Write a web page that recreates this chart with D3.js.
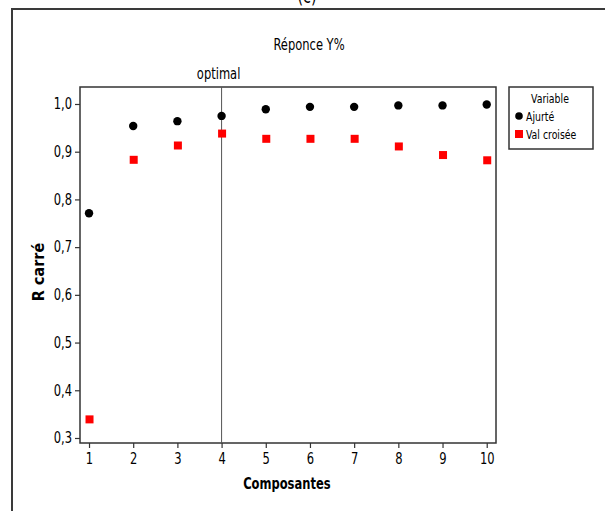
<!DOCTYPE html>
<html>
<head>
<meta charset="utf-8">
<script src="https://cdn.jsdelivr.net/npm/d3@7"></script>
<style>
  html, body { margin: 0; padding: 0; background: #fff; }
  svg { display: block; }
  text { font-family: "DejaVu Sans Condensed", "DejaVu Sans", sans-serif; fill: #000; }
</style>
</head>
<body>
<script>
// R² by number of components
const composantes = [1, 2, 3, 4, 5, 6, 7, 8, 9, 10];
const ajuste      = [0.771, 0.954, 0.964, 0.975, 0.989, 0.994, 0.994, 0.997, 0.997, 0.999];
const valCroisee  = [0.339, 0.883, 0.913, 0.938, 0.927, 0.927, 0.927, 0.911, 0.893, 0.882];
const yTicks      = [0.3, 0.4, 0.5, 0.6, 0.7, 0.8, 0.9, 1.0];
const xTicks      = [1, 2, 3, 4, 5, 6, 7, 8, 9, 10];
const optimal     = 4;

const W = 605, H = 511;
const plot = { left: 80, top: 87, right: 496, bottom: 443 };
const SX = 0.8; // horizontal squeeze of the lettering

const svg = d3.select("body").append("svg")
  .attr("width", W).attr("height", H);

// text placed at (x, y) and squeezed horizontally
function label(x0, y0, str, opts = {}) {
  const t = svg.append("text")
    .attr("transform", `translate(${x0},${y0}) scale(${opts.sx ?? SX},1)`)
    .attr("text-anchor", opts.anchor || "start")
    .style("font-size", (opts.size || 16) + "px")
    .text(str);
  if (opts.bold) t.style("font-weight", "bold");
  return t;
}

// outer figure frame (continues past the window edge)
svg.append("path")
  .attr("d", `M12,${H + 5} L12,9 L${W + 5},9`)
  .attr("fill", "none").attr("stroke", "#3a3a3a").attr("stroke-width", 2);

// panel tag, mostly cut off above the frame
label(307, 3, "(c)", { anchor: "middle", size: 20 });

const x = d3.scaleLinear().domain([0.796, 10.21]).range([plot.left, plot.right]);
const y = d3.scaleLinear().domain([0.2895, 1.0356]).range([plot.bottom, plot.top]);

const comma = v => d3.format(".1f")(v).replace(".", ",");

// axes
const gx = svg.append("g").attr("transform", `translate(0,${plot.bottom})`)
  .call(d3.axisBottom(x).tickValues(xTicks).tickSize(5).tickPadding(4).tickFormat(d3.format("d")));
const gy = svg.append("g").attr("transform", `translate(${plot.left},0)`)
  .call(d3.axisLeft(y).tickValues(yTicks).tickSize(5).tickPadding(3).tickFormat(comma));
[gx, gy].forEach(g => {
  g.select(".domain").remove();
  g.selectAll(".tick line").attr("stroke", "#333").attr("stroke-width", 1.2);
  g.selectAll(".tick text").style("font-size", "16px").attr("fill", "#000");
});
gx.selectAll(".tick text").attr("transform", `scale(${SX},1)`).attr("y", 9).attr("dy", "0.76em");
gy.selectAll(".tick text").attr("transform", `scale(${SX},1)`).attr("x", -8 / SX).attr("dy", "0.3em");

// plot frame
svg.append("rect")
  .attr("x", plot.left).attr("y", plot.top)
  .attr("width", plot.right - plot.left).attr("height", plot.bottom - plot.top)
  .attr("fill", "none").attr("stroke", "#333").attr("stroke-width", 1.5);

// reference line at the optimal number of components
svg.append("line")
  .attr("x1", x(optimal)).attr("x2", x(optimal))
  .attr("y1", plot.top).attr("y2", plot.bottom)
  .attr("stroke", "#555").attr("stroke-width", 1);
label(x(optimal) - 3, 79, "optimal", { anchor: "middle", size: 16 });

// title and axis titles
label(309, 50, "Réponce Y%", { anchor: "middle", size: 16 });
label(x(5.5) - 1, 489, "Composantes", { anchor: "middle", size: 16, bold: true });
svg.append("text").attr("transform", `translate(44,${(plot.top + plot.bottom) / 2 + 7}) rotate(-90)`)
  .attr("text-anchor", "middle").style("font-size", "16px").style("font-weight", "bold")
  .text("R carré");

// markers
svg.append("g").selectAll("circle").data(composantes).join("circle")
  .attr("cx", d => x(d)).attr("cy", (d, i) => y(ajuste[i]))
  .attr("r", 4.2).attr("fill", "#000");
const s = 8;
svg.append("g").selectAll("rect").data(composantes).join("rect")
  .attr("x", d => x(d) - s / 2 + 0.5).attr("y", (d, i) => y(valCroisee[i]) - s / 2)
  .attr("width", s).attr("height", s).attr("fill", "#ff0000");

// legend
svg.append("rect").attr("x", 509).attr("y", 87).attr("width", 84).attr("height", 62)
  .attr("fill", "#fff").attr("stroke", "#333").attr("stroke-width", 1.5);
label(550, 103, "Variable", { anchor: "middle", size: 13 });
const legendItems = [
  { label: "Ajurté", shape: "circle", y: 116 },
  { label: "Val croisée", shape: "square", y: 134 }
];
legendItems.forEach(it => {
  if (it.shape === "circle") {
    svg.append("circle").attr("cx", 519).attr("cy", it.y).attr("r", 3.8).attr("fill", "#000");
  } else {
    svg.append("rect").attr("x", 515).attr("y", it.y - 4).attr("width", 8).attr("height", 8).attr("fill", "#ff0000");
  }
  label(526, it.y + 4.5, it.label, { size: 13 });
});
</script>
</body>
</html>
